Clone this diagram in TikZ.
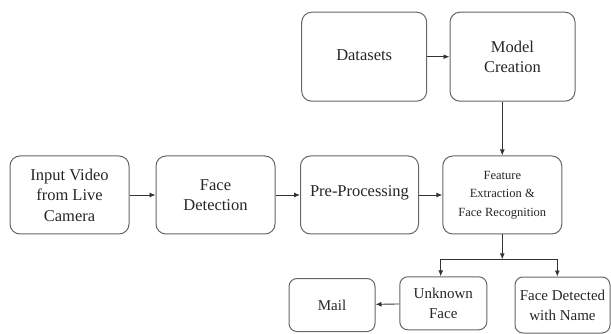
\documentclass[tikz,border=0pt]{standalone}
\usepackage{fontspec}
\setmainfont{Liberation Serif}
\newfontfamily\boxfont{Liberation Serif}
\usepackage{tikz}
\usetikzlibrary{arrows.meta}

\begin{document}
\begin{tikzpicture}[x=1pt,y=-1pt,>={Latex[length=6pt,width=5pt]},
  box/.style={draw=black!60,line width=1pt,rounded corners=10pt,align=center,
    text=black!85,font=\boxfont\fontsize{16.5}{20.5}\selectfont,inner sep=0pt},
  smallbox/.style={box,rounded corners=8pt,font=\boxfont\fontsize{15}{20}\selectfont},
  flow/.style={->,line width=0.9pt,draw=black!80}]

  \useasboundingbox (0,0) rectangle (611,334);

  % Top row = training side
  \node[box,minimum width=125pt,minimum height=89pt] (data) at (364.2,56.7) {\raisebox{4pt}{Datasets}};
  \node[box,minimum width=125pt,minimum height=89pt] (model) at (512.5,56.7) {Model\\Creation};

  % Middle row = live pipeline
  \node[box,minimum width=119pt,minimum height=78pt] (input) at (69.5,195) {Input Video\\from Live\\Camera};
  \node[box,minimum width=119pt,minimum height=78pt] (facedet) at (215.5,195) {Face\\Detection};
  \node[box,minimum width=118pt,minimum height=78pt] (prep) at (359.5,195) {\raisebox{7pt}{Pre-Processing}};
  \node[box,minimum width=119pt,minimum height=78pt,
    font=\boxfont\fontsize{12.5}{18.3}\selectfont] (feat) at (502.3,195)
    {Feature\\Extraction \&\\Face Recognition};

  % Bottom row = results
  \node[smallbox,minimum width=86pt,minimum height=53pt] (mail) at (332,305) {Mail};
  \node[smallbox,minimum width=87pt,minimum height=53pt] (unknown) at (443.3,303.3) {Unknown\\Face};
  \node[smallbox,minimum width=95pt,minimum height=56pt] (named) at (562.5,305) {Face Detected\\with Name};

  % Arrows
  \draw[flow] (data) -- (model);
  \draw[flow] (model.south -| feat.north) -- (feat.north);
  \draw[flow] (input) -- (facedet);
  \draw[flow] (facedet) -- (prep);
  \draw[flow] (prep) -- (feat);

  \coordinate (split) at (502.3,259.3);
  \draw[flow] (feat.south) -- (split);
  \draw[flow] (split) -| ([xshift=-2.6pt]unknown.north);
  \draw[flow] (split) -| ([xshift=-5.2pt]named.north);
  \draw[flow] (unknown) -- (mail);

\end{tikzpicture}
\end{document}
